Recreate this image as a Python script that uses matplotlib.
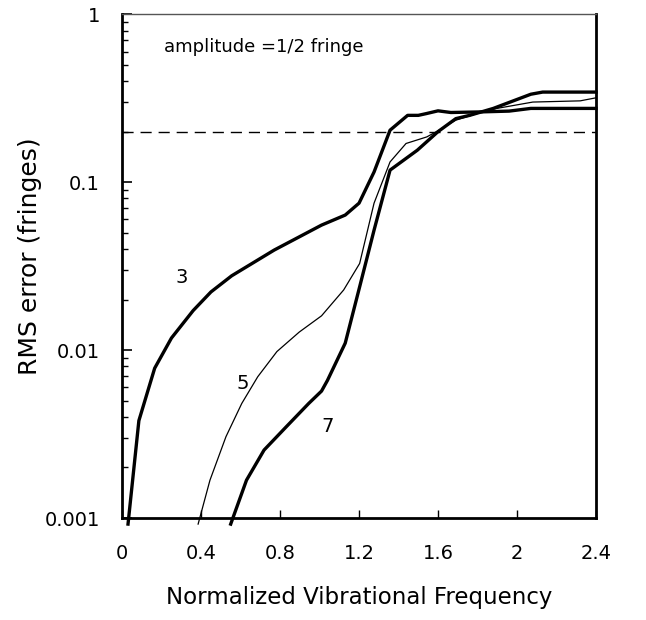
import matplotlib
matplotlib.use("Agg")
import matplotlib.pyplot as plt
from matplotlib.ticker import LogLocator, NullFormatter, FixedLocator

plt.rcParams['font.family'] = ['DejaVu Sans']

# Curve "3" (thick)
x3 = [0.03, 0.085, 0.165, 0.25, 0.36, 0.45, 0.555, 0.77, 1.01, 1.13, 1.2,
      1.276, 1.357, 1.446, 1.5, 1.54, 1.6, 1.665, 1.81, 1.96, 2.07, 2.4]
y3 = [0.00092, 0.0038, 0.0078, 0.0118, 0.0172, 0.0222, 0.0277, 0.0394, 0.0555, 0.0637, 0.075,
      0.115, 0.204, 0.25, 0.25, 0.256, 0.266, 0.26, 0.262, 0.265, 0.275, 0.275]

# Curve "5" (thin)
x5 = [0.385, 0.445, 0.526, 0.606, 0.687, 0.784, 0.897, 1.01, 1.122, 1.203,
      1.276, 1.357, 1.438, 1.543, 1.592, 1.69, 1.86, 2.08, 2.32, 2.4]
y5 = [0.00092, 0.00168, 0.00305, 0.00481, 0.00694, 0.0098, 0.0128, 0.0160, 0.0228, 0.0328,
      0.075, 0.132, 0.17, 0.186, 0.2, 0.234, 0.27, 0.30, 0.305, 0.318]

# Curve "7" (thick)
x7 = [0.55, 0.63, 0.719, 0.832, 0.945, 1.01, 1.04, 1.13, 1.203, 1.276, 1.357,
      1.495, 1.6, 1.69, 1.76, 1.88, 2.07, 2.13, 2.4]
y7 = [0.00092, 0.00168, 0.00254, 0.0035, 0.00481, 0.0057, 0.0066, 0.011, 0.0238, 0.0518, 0.118,
      0.155, 0.2, 0.239, 0.25, 0.275, 0.334, 0.344, 0.344]

threshold = 0.2
xticks = [0, 0.4, 0.8, 1.2, 1.6, 2.0, 2.4]
xticklabels = ["0", "0.4", "0.8", "1.2", "1.6", "2", "2.4"]
yticks = [0.001, 0.01, 0.1, 1]
yticklabels = ["0.001", "0.01", "0.1", "1"]

fig = plt.figure(figsize=(6.46, 6.2), dpi=100)
ax = fig.add_axes([0.189, 0.1645, 0.7336, 0.8125])

ax.plot(x3, y3, color='black', lw=2.4, solid_joinstyle='round', clip_on=False)
ax.plot(x5, y5, color='black', lw=0.9, clip_on=False)
ax.plot(x7, y7, color='black', lw=2.4, solid_joinstyle='round', clip_on=False)
ax.axhline(threshold, color='black', lw=1.0, dashes=(8, 5))

ax.set_yscale('log')
ax.set_xlim(0, 2.4)
ax.set_ylim(0.001, 1)

ax.xaxis.set_major_locator(FixedLocator(xticks))
ax.set_xticklabels(xticklabels)
ax.yaxis.set_major_locator(FixedLocator(yticks))
ax.set_yticklabels(yticklabels)
ax.yaxis.set_minor_locator(LogLocator(base=10, subs=range(2, 10)))
ax.yaxis.set_minor_formatter(NullFormatter())

ax.tick_params(axis='x', direction='in', length=6, width=1, pad=19, labelsize=14,
               top=False)
ax.tick_params(axis='y', which='major', direction='in', length=7, width=1.2, pad=16,
               labelsize=14, right=False)
ax.tick_params(axis='y', which='minor', direction='in', length=4, width=1, right=False)

for s in ['left', 'bottom', 'right']:
    ax.spines[s].set_linewidth(2.0)
ax.spines['top'].set_linewidth(1.0)
ax.spines['top'].set_color('#555555')

ax.set_xlabel("Normalized Vibrational Frequency", fontsize=16.5, labelpad=16)
ax.set_ylabel("RMS error (fringes)", fontsize=18, labelpad=3)
ax.yaxis.set_label_coords(-0.17, 0.52)

ax.text(0.21, 0.64, "amplitude =1/2 fringe", fontsize=13, va='center', ha='left')
ax.text(0.30, 0.027, "3", fontsize=14, ha='center', va='center')
ax.text(0.61, 0.0063, "5", fontsize=14, ha='center', va='center')
ax.text(1.04, 0.0035, "7", fontsize=14, ha='center', va='center')

fig.savefig("out.png", dpi=100)
